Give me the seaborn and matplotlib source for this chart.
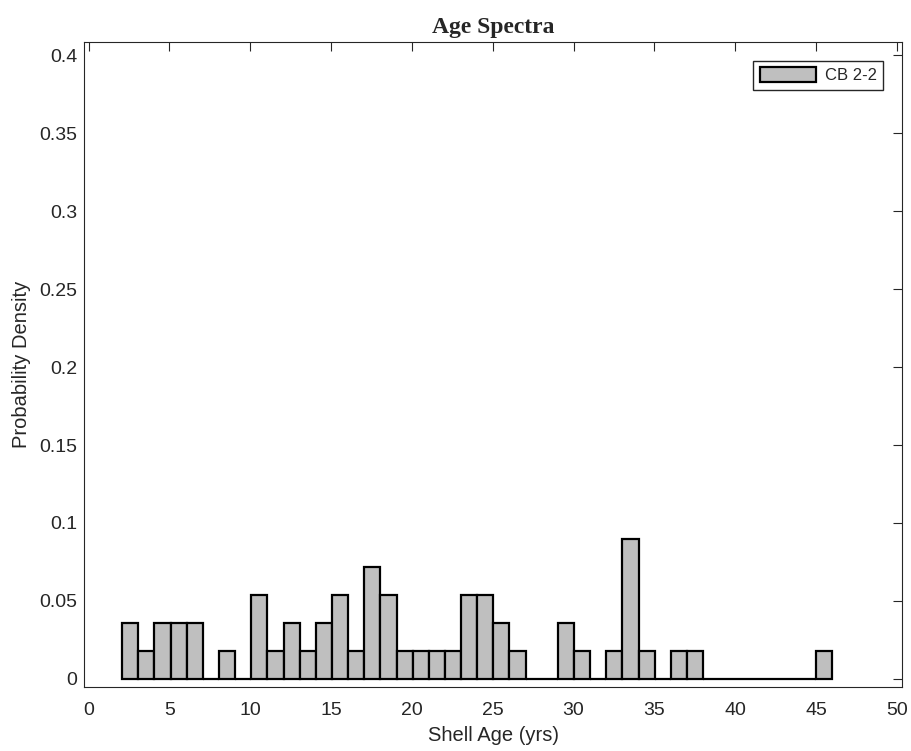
import numpy as np
import pandas as pd
import seaborn as sns
import matplotlib.pyplot as plt
from matplotlib.ticker import FormatStrFormatter, MultipleLocator

# shell-age histogram, counts per ~1 yr bin (56 shells in total)
bin_edges = list(np.linspace(2.08, 46.0, 45))
bin_counts = [2, 1, 2, 2, 2, 0, 1, 0, 3, 1, 2, 1, 2, 3, 1, 4,
              3, 1, 1, 1, 1, 3, 3, 2, 1, 0, 0, 2, 1, 0, 1, 5, 1, 0,
              1, 1, 0, 0, 0, 0, 0, 0, 0, 1]
sample_name = "CB 2-2"

centers = [(a + b) / 2 for a, b in zip(bin_edges[:-1], bin_edges[1:])]
df = pd.DataFrame({"age": centers, "n": bin_counts})

sns.set_style("white")
plt.rcParams["font.family"] = ["Liberation Sans", "DejaVu Sans"]

fig = plt.figure(figsize=(9.12, 7.51), dpi=100)
ax = fig.add_axes([0.0925, 0.0852, 0.8962, 0.8585])

sns.histplot(data=df, x="age", weights="n", bins=bin_edges, stat="density",
             color="#bfbfbf", alpha=1, edgecolor="black", linewidth=1.6,
             label=sample_name, ax=ax)

ax.set_xlim(-0.26, 50.3)
ax.set_ylim(-0.0052, 0.4083)
ax.xaxis.set_major_locator(MultipleLocator(5))
ax.yaxis.set_major_locator(MultipleLocator(0.05))
ax.yaxis.set_major_formatter(FormatStrFormatter("%g"))
ax.tick_params(direction="in", top=True, right=True, length=6.5, width=0.8,
               colors="#262626", labelsize=14)
ax.tick_params(axis="x", pad=11)
ax.tick_params(axis="y", pad=5)
for s in ax.spines.values():
    s.set_color("#262626")
    s.set_linewidth(0.8)

ax.set_title("Age Spectra", fontfamily="Liberation Serif", fontweight="bold",
             fontsize=17, pad=7)
ax.set_xlabel("Shell Age (yrs)", fontsize=14.5, color="#262626", labelpad=5)
ax.set_ylabel("Probability Density", fontsize=14.5, color="#262626", labelpad=6)

ax.legend(loc="upper right", fontsize=12, handlelength=3.4, handleheight=0.95,
          handletextpad=0.5, fancybox=False, framealpha=1, edgecolor="#262626",
          borderaxespad=1.1, borderpad=0.4)

fig.savefig("out.png", dpi=100)
